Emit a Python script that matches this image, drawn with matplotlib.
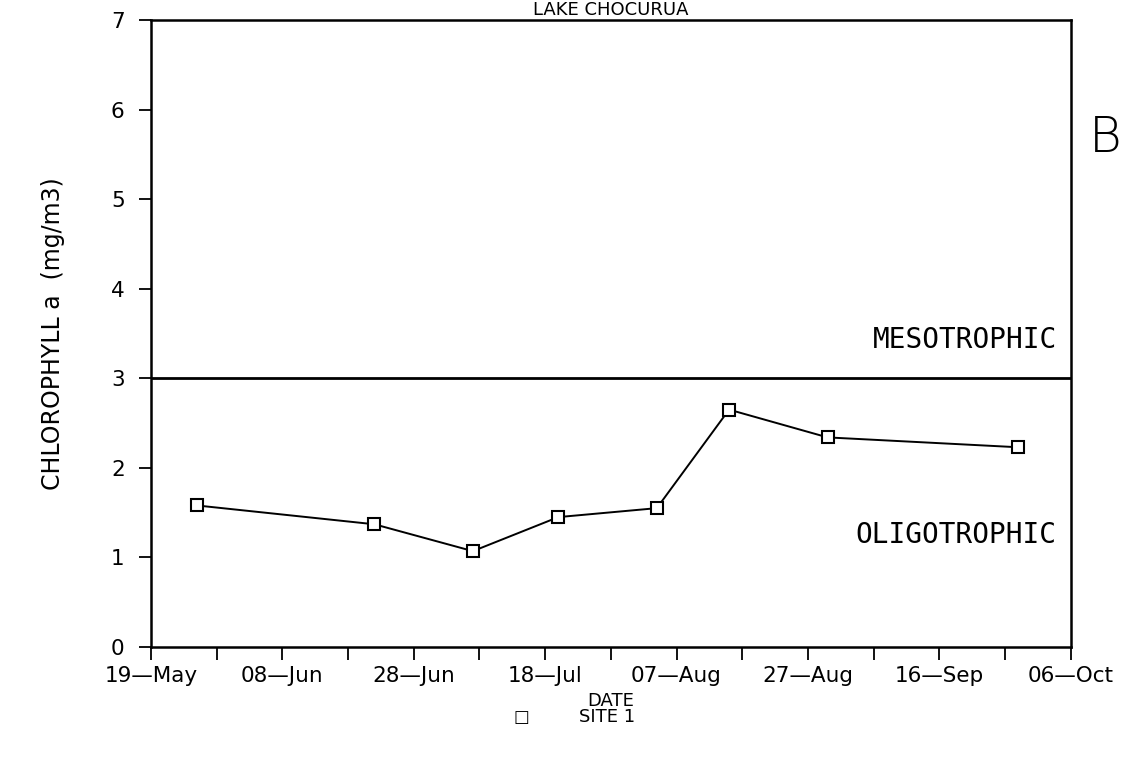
import matplotlib
matplotlib.use('Agg')
import matplotlib.pyplot as plt
import pandas as pd

# data
dates = ['1990-05-26', '1990-06-22', '1990-07-07', '1990-07-20',
         '1990-08-04', '1990-08-15', '1990-08-30', '1990-09-28']
chl = [1.58, 1.37, 1.07, 1.45, 1.55, 2.65, 2.34, 2.23]
boundary = 3.0
tick_labels = ['19—May', '08—Jun', '28—Jun', '18—Jul', '07—Aug',
               '27—Aug', '16—Sep', '06—Oct']

x = pd.to_datetime(dates)
start = pd.Timestamp('1990-05-19')
end = pd.Timestamp('1990-10-06')

fig = plt.figure(figsize=(11.27, 7.59), dpi=100)
ax = fig.add_axes([0.134, 0.1476, 0.816, 0.826])

ax.plot(x, chl, color='black', lw=1.4, marker='s', ms=8,
        mfc='white', mec='black', mew=1.5)
ax.axhline(boundary, color='black', lw=2)

ax.set_xlim(start, end)
ax.set_ylim(0, 7)

# ticks every 10 days, label every 20
ticks = pd.date_range(start, end, freq='10D')
ax.set_xticks(ticks)
ax.set_xticklabels([tick_labels[i // 2] if i % 2 == 0 else '' for i in range(len(ticks))])
ax.set_yticks(range(0, 8))

ax.tick_params(axis='both', direction='out', length=9, width=1.3,
               labelsize=15.5, color='black', pad=5)
ax.tick_params(axis='y', pad=10)
for s in ax.spines.values():
    s.set_linewidth(1.8)

ax.set_ylabel('CHLOROPHYLL a  (mg/m3)', fontsize=17, labelpad=33)

ax.text(0.985, 3.43, 'MESOTROPHIC', transform=ax.get_yaxis_transform(),
        ha='right', va='center', family='DejaVu Sans Mono', fontsize=20)
ax.text(0.985, 1.25, 'OLIGOTROPHIC', transform=ax.get_yaxis_transform(),
        ha='right', va='center', family='DejaVu Sans Mono', fontsize=20)

fig.text(0.542, 0.999, 'LAKE CHOCURUA', ha='center', va='top', fontsize=13)
fig.text(0.981, 0.818, 'B', ha='center', va='center', fontsize=36,
         fontweight='light')
fig.text(0.542, 0.077, 'DATE', ha='center', va='center', fontsize=13)
fig.text(0.463, 0.055, '□', ha='center', va='center', fontsize=12)
fig.text(0.539, 0.055, 'SITE 1', ha='center', va='center', fontsize=13)

fig.savefig('out.png', dpi=100)
